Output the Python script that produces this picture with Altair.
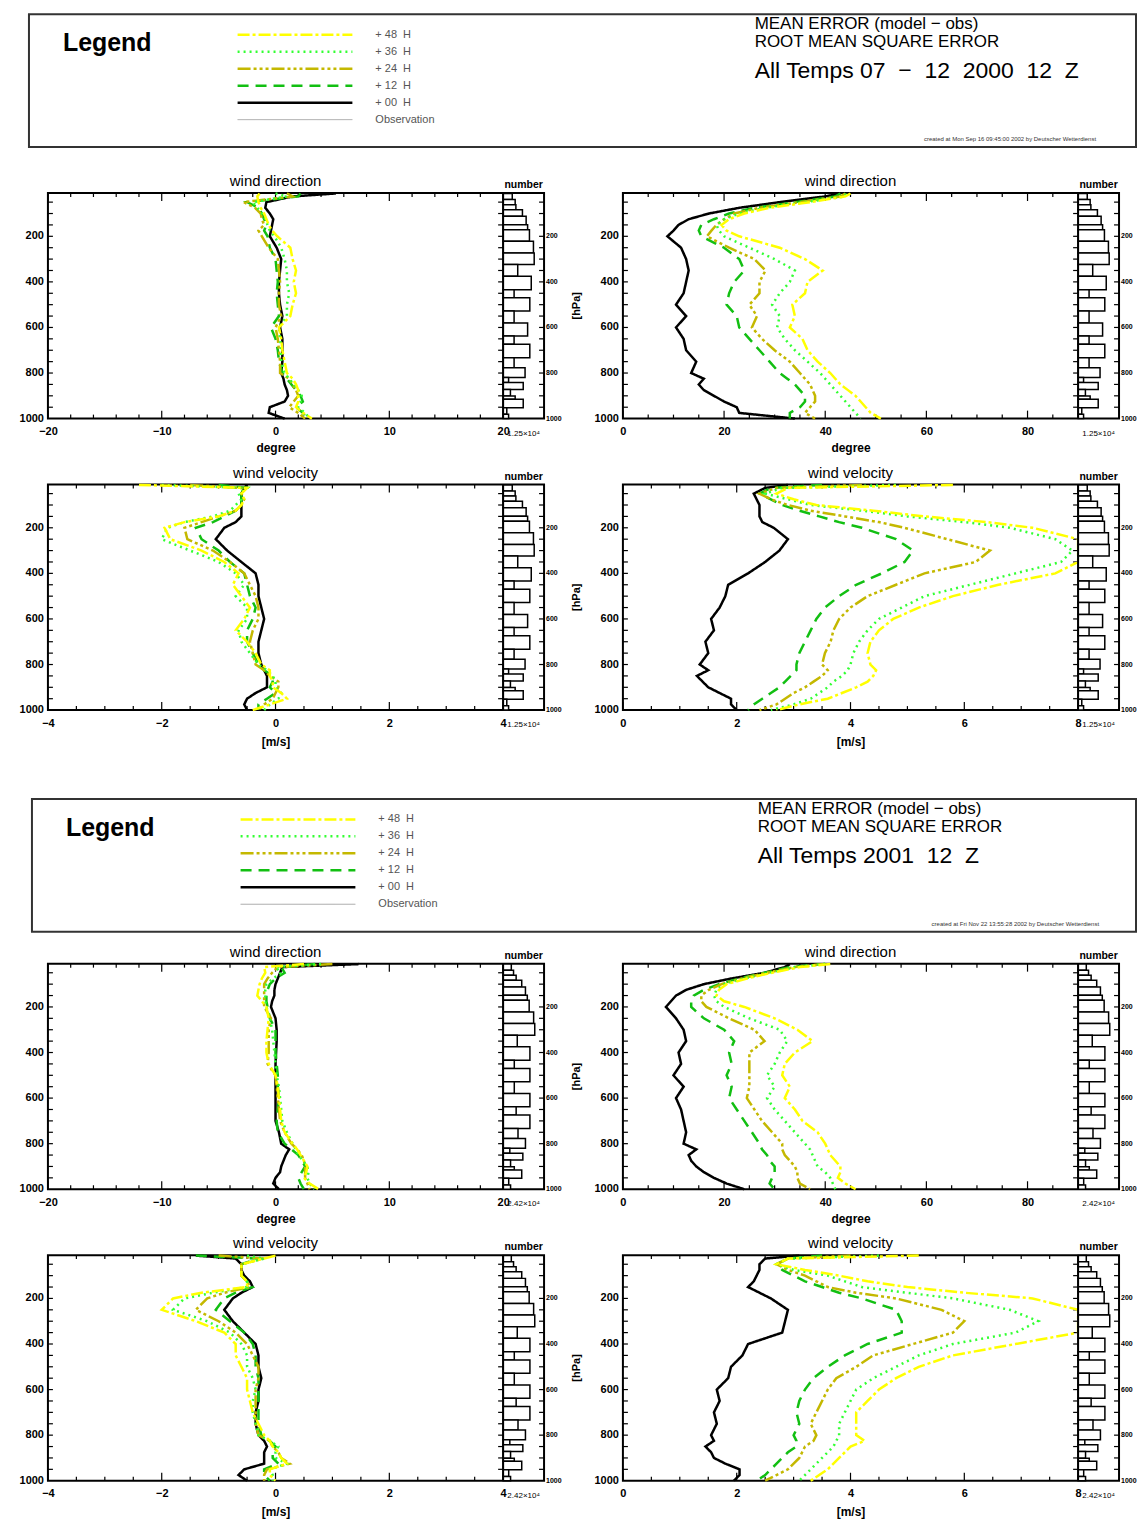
import altair as alt
import pandas as pd

# ---------------- pressure levels (hPa) ----------------
P = [12, 25, 50, 75, 100, 125, 150, 175, 200, 250, 300, 350, 400, 450, 500,
     550, 600, 650, 700, 750, 800, 825, 850, 875, 900, 925, 950, 975, 1000]

# ---- 2000: mean error, wind direction (degree) ----
me_dir_2000_00 = [5.3, 1.5, -0.8, -0.9, -0.5, -0.2, -0.3, -0.4, -0.5, 0.1, 0.5, 0.4, 0.3, 0.3, 0.4, 0.6, 0.4, 0.6, 0.6, 0.6, 0.5, 0.7, 0.8, 1.0, 1.1, 0.8, -0.5, -0.6, 0.8]
me_dir_2000_12 = [2.2, 2.0, -2.5, -1.5, -1.2, -1.0, -0.8, -1.0, -0.7, -0.5, 0.0, 0.1, 0.2, 0.1, 0.2, 0.3, -0.4, 0.0, 0.2, 0.3, 0.6, 1.0, 1.4, 1.8, 2.2, 2.4, 1.8, 2.4, 2.8]
me_dir_2000_24 = [1.0, 1.5, -2.8, -1.8, -1.3, -1.2, -1.0, -1.5, -1.2, -0.6, 0.2, 0.3, 0.4, 0.3, 0.3, 0.5, 0.0, 0.2, 0.3, 0.4, 0.4, 1.2, 1.5, 1.8, 2.0, 1.6, 1.2, 2.0, 2.6]
me_dir_2000_36 = [0.0, 1.0, -2.0, -1.6, -1.2, -0.9, -0.7, -0.5, -0.1, 0.5, 0.8, 1.0, 1.0, 1.2, 1.0, 1.0, 0.3, 0.4, 0.5, 0.5, 0.8, 1.2, 1.6, 2.0, 2.3, 2.2, 2.0, 2.6, 3.0]
me_dir_2000_48 = [-1.4, -1.6, -1.5, -1.3, -1.0, -0.8, -0.6, -0.3, 0.15, 1.3, 1.5, 1.8, 1.6, 1.8, 1.5, 1.3, 0.3, 0.5, 0.6, 0.8, 1.0, 1.5, 1.8, 2.0, 2.0, 2.0, 1.8, 2.4, 3.2]

# ---- 2000: rmse, wind direction (degree) ----
rm_dir_2000_00 = [43, 40, 31, 23, 17, 13, 11, 10, 8.8, 11.5, 12.5, 13, 12.5, 12, 10.5, 12.5, 10.5, 12, 12.5, 14.5, 13.5, 16, 15, 16, 18, 20, 22.5, 23, 34]
rm_dir_2000_12 = [43, 42, 34, 26, 21, 18, 15.5, 15, 15.5, 20, 23, 24, 22, 21, 20.5, 22.5, 23, 25, 27, 29, 31, 32.5, 34, 35, 36, 36, 35, 33, 33]
rm_dir_2000_24 = [44, 43, 35, 27, 22, 20, 18.5, 17.5, 16.6, 21, 26, 28.2, 27, 27, 25, 26.5, 25.5, 27.5, 30, 33, 35, 36, 37, 37.5, 38, 38, 37, 36, 38]
rm_dir_2000_36 = [44, 44, 36, 28, 23, 20, 18.5, 19, 20, 25, 30, 34, 33, 31, 29.5, 31, 30.5, 32, 34, 36.5, 39, 40, 41, 42, 43, 44, 45, 46, 47]
rm_dir_2000_48 = [45, 44, 37, 29, 24, 21, 19.5, 20.5, 23, 31, 36, 39.5, 36.5, 36, 33.5, 34, 33, 35.5, 36.5, 38.5, 41, 42, 43, 44.5, 46, 47, 48, 49, 51]

# ---- 2000: mean error, wind velocity (m/s) ----
me_vel_2000_00 = [-0.5, -0.55, -0.6, -0.6, -0.6, -0.6, -0.6, -0.7, -0.9, -1.05, -0.85, -0.6, -0.35, -0.3, -0.3, -0.25, -0.2, -0.25, -0.3, -0.3, -0.25, -0.2, -0.15, -0.15, -0.15, -0.35, -0.5, -0.55, -0.5]
me_vel_2000_12 = [-1.0, -0.5, -0.6, -0.6, -0.6, -0.7, -0.9, -1.1, -1.4, -1.3, -1.0, -0.8, -0.55, -0.5, -0.45, -0.35, -0.4, -0.5, -0.5, -0.4, -0.3, -0.2, -0.05, -0.05, -0.1, 0.0, -0.15, -0.3, -0.3]
me_vel_2000_24 = [-1.5, -0.6, -0.6, -0.55, -0.6, -0.7, -1.0, -1.3, -1.6, -1.55, -1.1, -0.8, -0.55, -0.45, -0.35, -0.3, -0.3, -0.4, -0.45, -0.4, -0.35, -0.2, -0.1, 0.05, 0.05, 0.0, -0.05, -0.2, -0.3]
me_vel_2000_36 = [-2.0, -0.5, -0.65, -0.6, -0.7, -0.8, -1.1, -1.6, -1.9, -2.0, -1.5, -1.0, -0.7, -0.55, -0.7, -0.5, -0.5, -0.65, -0.6, -0.45, -0.3, -0.15, -0.05, 0.0, 0.0, 0.1, 0.05, -0.1, -0.2]
me_vel_2000_48 = [-2.4, -0.5, -0.6, -0.55, -0.6, -0.7, -1.0, -1.6, -1.95, -1.85, -1.3, -0.9, -0.65, -0.75, -0.6, -0.45, -0.55, -0.7, -0.5, -0.35, -0.25, -0.1, -0.1, -0.05, -0.05, 0.1, 0.2, -0.1, -0.4]

# ---- 2000: rmse, wind velocity (m/s) ----
rm_vel_2000_00 = [2.9, 2.5, 2.3, 2.35, 2.4, 2.4, 2.4, 2.45, 2.65, 2.9, 2.75, 2.5, 2.2, 1.85, 1.8, 1.7, 1.55, 1.6, 1.45, 1.5, 1.35, 1.5, 1.3, 1.4, 1.5, 1.7, 1.9, 1.9, 2.0]
rm_vel_2000_12 = [3.5, 2.6, 2.4, 2.6, 2.8, 3.1, 3.45, 3.8, 4.2, 4.8, 5.1, 4.95, 4.55, 4.1, 3.8, 3.55, 3.4, 3.3, 3.2, 3.1, 3.05, 3.05, 2.95, 2.85, 2.75, 2.6, 2.45, 2.3, 2.2]
rm_vel_2000_24 = [4.2, 2.7, 2.4, 2.6, 2.9, 3.3, 3.9, 4.5, 4.95, 5.7, 6.45, 6.2, 5.3, 4.8, 4.3, 4.0, 3.8, 3.7, 3.65, 3.55, 3.5, 3.6, 3.5, 3.35, 3.2, 3.0, 2.85, 2.7, 2.4]
rm_vel_2000_36 = [4.8, 2.8, 2.5, 2.9, 3.3, 4.2, 5.0, 6.0, 6.8, 7.6, 7.9, 7.7, 6.9, 6.1, 5.3, 4.9, 4.5, 4.3, 4.15, 4.05, 4.0, 3.95, 3.85, 3.7, 3.6, 3.45, 3.3, 3.0, 2.6]
rm_vel_2000_48 = [5.8, 2.9, 2.7, 3.0, 3.4, 4.4, 5.3, 6.4, 7.2, 8.3, 8.5, 8.4, 7.6, 6.6, 5.8, 5.2, 4.75, 4.5, 4.35, 4.3, 4.35, 4.45, 4.4, 4.3, 4.1, 3.85, 3.6, 3.1, 2.7]

# ---- 2001: mean error, wind direction (degree) ----
me_dir_2001_00 = [7.3, 0.6, 0.4, 0.2, 0.0, -0.1, -0.1, -0.3, -0.4, 0.0, 0.1, 0.1, 0.05, 0.0, 0.0, 0.0, 0.0, 0.0, 0.0, 0.3, 0.5, 1.2, 0.9, 0.7, 0.5, 0.4, 0.0, -0.2, 0.3]
me_dir_2001_12 = [3.5, 0.5, 0.8, 0.0, -0.5, -0.7, -0.8, -0.8, -0.7, -0.5, 0.0, 0.0, 0.0, 0.1, 0.2, 0.2, 0.3, 0.2, 0.1, 0.2, 0.8, 1.4, 2.0, 2.3, 2.6, 2.3, 2.0, 2.2, 2.5]
me_dir_2001_24 = [5.0, 0.2, -0.3, -0.7, -1.0, -1.0, -1.0, -1.0, -1.0, -0.4, -0.6, -0.6, -0.6, -0.7, 0.0, 0.1, 0.2, 0.3, 0.4, 0.8, 1.4, 1.9, 2.3, 2.5, 2.6, 2.6, 2.6, 2.8, 3.0]
me_dir_2001_36 = [4.0, 0.0, 0.5, -0.2, -0.8, -0.9, -0.9, -0.9, -0.8, -0.5, -0.3, -0.2, -0.1, 0.0, 0.1, 0.3, 0.4, 0.5, 0.6, 1.0, 1.5, 1.8, 2.0, 2.4, 2.8, 2.9, 2.8, 3.0, 3.4]
me_dir_2001_48 = [2.5, -1.0, -0.9, -1.2, -1.4, -1.5, -1.6, -1.2, -0.8, -0.6, -0.7, -0.8, -0.8, -0.6, 0.0, 0.2, 0.3, 0.4, 0.5, 0.8, 1.5, 1.9, 2.2, 2.5, 2.8, 2.7, 2.5, 3.0, 3.8]

# ---- 2001: rmse, wind direction (degree) ----
rm_dir_2001_00 = [33, 32, 28, 21.5, 16, 12.5, 10.5, 9.5, 8.5, 10.5, 12, 12.5, 11, 11.5, 10, 12, 10.5, 11.5, 12, 12.5, 12, 14.5, 13, 13.5, 14.5, 16, 18, 20.5, 24]
rm_dir_2001_12 = [40, 33, 28, 23, 19, 16, 14, 13.5, 13.5, 16, 20, 22, 21, 21.5, 20.5, 21.5, 21, 22.5, 24, 25.5, 27, 27.5, 28.5, 29, 30, 30, 29.5, 29, 30]
rm_dir_2001_24 = [40, 34, 28.5, 23.5, 19.5, 17, 15.5, 15.5, 16.5, 21, 26, 28, 25, 25, 25, 25, 24.5, 26, 27.5, 29.5, 31.5, 31.5, 32, 33, 34, 34.5, 34.5, 35, 37]
rm_dir_2001_36 = [40, 34, 29, 24, 20, 18.5, 18, 18.5, 20, 25, 31, 32.5, 31, 30, 28.5, 30, 28.5, 30, 32, 34, 36, 37, 37.5, 38, 38.5, 40, 41, 41.5, 42]
rm_dir_2001_48 = [41, 35, 29.5, 24.5, 20.5, 19, 18.5, 20, 24, 30, 34.5, 37.5, 34, 32, 31.5, 33, 32, 34, 35.5, 38.5, 40, 40.5, 41, 42, 43, 43, 42.5, 44, 46]

# ---- 2001: mean error, wind velocity (m/s) ----
me_vel_2001_00 = [-1.4, -0.7, -0.6, -0.6, -0.55, -0.45, -0.4, -0.6, -0.75, -0.9, -0.75, -0.55, -0.35, -0.3, -0.3, -0.25, -0.3, -0.3, -0.35, -0.35, -0.3, -0.2, -0.15, -0.2, -0.2, -0.2, -0.55, -0.65, -0.5]
me_vel_2001_12 = [-1.4, -0.3, -0.6, -0.6, -0.6, -0.5, -0.4, -0.7, -0.9, -1.05, -0.8, -0.55, -0.4, -0.35, -0.35, -0.3, -0.3, -0.3, -0.3, -0.3, -0.25, -0.1, 0.0, -0.05, -0.05, 0.05, -0.2, -0.2, -0.1]
me_vel_2001_24 = [-1.0, -0.2, -0.6, -0.6, -0.6, -0.5, -0.45, -0.9, -1.2, -1.4, -1.0, -0.7, -0.5, -0.4, -0.3, -0.3, -0.35, -0.35, -0.35, -0.35, -0.3, -0.1, -0.05, 0.05, 0.1, 0.25, -0.15, -0.2, -0.2]
me_vel_2001_36 = [-0.5, -0.2, -0.6, -0.6, -0.6, -0.5, -0.5, -1.1, -1.6, -1.8, -1.2, -0.8, -0.6, -0.5, -0.5, -0.4, -0.35, -0.4, -0.4, -0.35, -0.3, -0.1, 0.05, 0.0, 0.0, 0.2, -0.1, -0.05, -0.05]
me_vel_2001_48 = [0.0, -0.2, -0.6, -0.6, -0.6, -0.5, -0.5, -1.3, -1.8, -2.0, -1.4, -0.9, -0.7, -0.7, -0.6, -0.5, -0.5, -0.45, -0.4, -0.3, -0.2, -0.1, -0.05, 0.05, 0.1, 0.2, -0.1, -0.1, 0.0]

# ---- 2001: rmse, wind velocity (m/s) ----
rm_vel_2001_00 = [3.1, 2.5, 2.4, 2.4, 2.35, 2.3, 2.2, 2.4, 2.6, 2.9, 2.85, 2.8, 2.2, 2.1, 1.9, 1.85, 1.65, 1.7, 1.6, 1.65, 1.55, 1.6, 1.45, 1.55, 1.6, 1.8, 2.05, 2.05, 1.95]
rm_vel_2001_12 = [3.5, 2.9, 2.7, 2.8, 3.0, 3.2, 3.5, 3.8, 4.2, 4.8, 4.9, 4.9, 4.3, 3.9, 3.6, 3.35, 3.2, 3.1, 3.05, 3.1, 3.0, 3.05, 3.05, 2.9, 2.8, 2.7, 2.6, 2.5, 2.35]
rm_vel_2001_24 = [4.0, 2.9, 2.7, 2.9, 3.2, 3.4, 3.6, 4.1, 4.8, 5.6, 6.0, 5.8, 5.1, 4.4, 4.1, 3.75, 3.6, 3.5, 3.4, 3.3, 3.4, 3.35, 3.2, 3.15, 3.1, 3.0, 2.9, 2.7, 2.5]
rm_vel_2001_36 = [4.5, 2.9, 2.7, 3.0, 3.6, 3.9, 4.2, 5.0, 5.8, 6.8, 7.3, 6.9, 5.8, 5.2, 4.8, 4.4, 4.1, 4.0, 3.9, 3.8, 3.8, 3.75, 3.7, 3.6, 3.5, 3.4, 3.3, 3.2, 3.1]
rm_vel_2001_48 = [5.2, 2.9, 2.7, 3.2, 3.8, 4.3, 5.0, 6.0, 7.2, 8.3, 8.5, 8.0, 6.9, 5.8, 5.2, 4.8, 4.5, 4.3, 4.1, 4.1, 4.1, 4.25, 4.0, 3.9, 3.8, 3.7, 3.6, 3.45, 3.3]

# ---- number of observations per pressure band ----
HIST_EDGES = [12, 39, 61, 83, 112, 149, 171, 222, 273, 324, 375, 434, 470, 528,
              580, 638, 674, 733, 777, 820, 842, 872, 901, 915, 952, 981, 1000]
HIST_2000 = [2790, 3680, 3900, 5900, 7030, 7480, 8040, 9260, 9490, 4460, 8590, 3350, 8150,
             3350, 7480, 3350, 8150, 3350, 6700, 1670, 6140, 2230, 3680, 6140, 1120, 1670]
HIST_2001 = [4840, 6160, 7700, 11000, 13200, 14300, 15400, 18040, 18700, 8360, 15840, 6600, 15840,
             6600, 15840, 7700, 15840, 8800, 13200, 3960, 11660, 4400, 6600, 11000, 3300, 4400]

# ---- axis ticks / labels ----
Y_LABELS = [200, 400, 600, 800, 1000]
Y_TICKS = [50, 100, 150, 200, 250, 300, 350, 400, 450, 500, 550, 600, 650, 700, 750, 800, 850, 900, 950]
X_ME_DIR = [-20, -10, 0, 10, 20]
X_RM_DIR = [0, 20, 40, 60, 80]
X_ME_VEL = [-4, -2, 0, 2, 4]
X_RM_VEL = [0, 2, 4, 6, 8]
XM_ME_DIR = [v for v in range(-18, 20, 2) if v % 10 != 0]
XM_RM_DIR = [v for v in range(5, 90, 5) if v % 20 != 0]
XM_ME_VEL = [v / 2 for v in range(-7, 8) if v % 4 != 0]
XM_RM_VEL = [v / 2 for v in range(1, 16) if v % 4 != 0]

SERIES = ["00", "12", "24", "36", "48"]
LEGEND_KEYS = ["48", "36", "24", "12", "00", "obs"]
LEGEND_LABELS = ["+ 48\u00a0\u00a0H", "+ 36\u00a0\u00a0H", "+ 24\u00a0\u00a0H",
                 "+ 12\u00a0\u00a0H", "+ 00\u00a0\u00a0H", "Observation"]

# ---------------- tables ----------------
PANELS = {
    "me_dir_2000": [me_dir_2000_00, me_dir_2000_12, me_dir_2000_24, me_dir_2000_36, me_dir_2000_48],
    "rm_dir_2000": [rm_dir_2000_00, rm_dir_2000_12, rm_dir_2000_24, rm_dir_2000_36, rm_dir_2000_48],
    "me_vel_2000": [me_vel_2000_00, me_vel_2000_12, me_vel_2000_24, me_vel_2000_36, me_vel_2000_48],
    "rm_vel_2000": [rm_vel_2000_00, rm_vel_2000_12, rm_vel_2000_24, rm_vel_2000_36, rm_vel_2000_48],
    "me_dir_2001": [me_dir_2001_00, me_dir_2001_12, me_dir_2001_24, me_dir_2001_36, me_dir_2001_48],
    "rm_dir_2001": [rm_dir_2001_00, rm_dir_2001_12, rm_dir_2001_24, rm_dir_2001_36, rm_dir_2001_48],
    "me_vel_2001": [me_vel_2001_00, me_vel_2001_12, me_vel_2001_24, me_vel_2001_36, me_vel_2001_48],
    "rm_vel_2001": [rm_vel_2001_00, rm_vel_2001_12, rm_vel_2001_24, rm_vel_2001_36, rm_vel_2001_48],
}
rows = []
for key, lists in PANELS.items():
    for s, vals in zip(SERIES, lists):
        for p, v in zip(P, vals):
            rows.append({"panel": key, "s": s, "p": p, "v": v})
LINES = pd.DataFrame(rows)

hrows = []
for year, counts in ((2000, HIST_2000), (2001, HIST_2001)):
    for i, n in enumerate(counts):
        hrows.append({"year": year, "top": HIST_EDGES[i], "bot": HIST_EDGES[i + 1], "n": n, "zero": 0})
HIST = pd.DataFrame(hrows)

YT = pd.DataFrame({"p": Y_TICKS})
RL = pd.DataFrame({"p": Y_LABELS, "lab": [str(v) for v in Y_LABELS]})
ONE = pd.DataFrame({"a": [0]})
LEG = pd.DataFrame({"s": LEGEND_KEYS, "label": LEGEND_LABELS})

# ---------------- styling ----------------
FONT = "Liberation Sans"
NB = "\u00a0"
W_MAIN, W_HIST, H = 456, 41, 226
W = W_MAIN + W_HIST

COLOR_SCALE = alt.Scale(domain=LEGEND_KEYS,
                        range=["#ffff00", "#33ff33", "#c4b800", "#12bf12", "#000000", "#a0a0a0"])
DASH_SCALE = alt.Scale(domain=LEGEND_KEYS,
                       range=[[12, 3, 3, 3], [2, 4], [13, 3, 3, 3, 3, 3, 3, 3], [11, 7], [1, 0], [1, 0]])


def rule_y(x1, x2, ys):
    return alt.Chart(YT).mark_rule(color="black", strokeWidth=1.2).encode(
        x=alt.value(x1), x2=alt.value(x2), y=alt.Y("p:Q", scale=ys, axis=None))


def rule_x(vals, xs, y1, y2):
    return alt.Chart(pd.DataFrame({"t": vals})).mark_rule(color="black", strokeWidth=1.2).encode(
        x=alt.X("t:Q", scale=xs, axis=None), y=alt.value(y1), y2=alt.value(y2))


def text_at(txt, x, y, **kw):
    return alt.Chart(ONE).mark_text(text=txt, color="black", baseline="middle", **kw).encode(
        x=alt.value(x), y=alt.value(y))


def panel(key, year, title, xdom, xmajor, xminor, xtitle, xtpad, ytitle, hmax, hlabel):
    xs = alt.Scale(domain=xdom, range=[0, W_MAIN], nice=False, zero=False, clamp=True)
    ys = alt.Scale(domain=[10, 1000], reverse=True, nice=False, zero=False)
    xb = alt.Scale(domain=[0, hmax], range=[W_MAIN, W], nice=False, zero=True)
    xaxis = alt.Axis(values=xmajor, ticks=False, domain=False, grid=False, labelFlush=False,
                     labelPadding=7, labelFontSize=11, labelFontWeight="bold", labelColor="black",
                     format="d", title=xtitle, titlePadding=xtpad, titleFontSize=12,
                     titleFontWeight="bold", titleColor="black")

    layers = [
        rule_y(0, 5, ys), rule_y(W_MAIN, W_MAIN - 5, ys), rule_y(W, W - 5, ys),
        rule_x(xmajor, xs, H, H - 8), rule_x(xmajor, xs, 0, 8),
        rule_x(xminor, xs, H, H - 4), rule_x(xminor, xs, 0, 4),
    ]
    base = alt.Chart(LINES).transform_filter(alt.datum.panel == key)
    for i, s in enumerate(SERIES):
        layers.append(
            base.transform_filter(alt.datum.s == s).mark_line(strokeWidth=2.5).encode(
                x=alt.X("v:Q", scale=xs, axis=xaxis if i == 0 else None),
                y=alt.Y("p:Q", scale=ys, axis=None),
                color=alt.Color("s:N", scale=COLOR_SCALE, legend=None),
                strokeDash=alt.StrokeDash("s:N", scale=DASH_SCALE, legend=None),
                order=alt.Order("p:Q"),
            )
        )
    layers.append(
        alt.Chart(HIST).transform_filter(alt.datum.year == year)
        .mark_rect(fill="white", stroke="black", strokeWidth=1.5)
        .encode(x=alt.X("zero:Q", scale=xb, axis=None), x2="n:Q",
                y=alt.Y("top:Q", scale=ys, axis=None), y2="bot:Q")
    )
    layers.append(alt.Chart(ONE).mark_rule(color="black", strokeWidth=2).encode(
        x=alt.value(W_MAIN), y=alt.value(0), y2=alt.value(H)))
    # left pressure labels
    layers.append(alt.Chart(RL).mark_text(align="right", baseline="middle", fontSize=11,
                                          fontWeight="bold", color="black").encode(
        x=alt.value(-4), y=alt.Y("p:Q", scale=ys, axis=None), text="lab:N"))
    # right pressure labels (histogram side)
    layers.append(alt.Chart(RL).mark_text(align="left", baseline="middle", fontSize=7,
                                          fontWeight="bold", color="black").encode(
        x=alt.value(W + 2), y=alt.Y("p:Q", scale=ys, axis=None), text="lab:N"))
    if ytitle:
        layers.append(text_at(ytitle, -46, H / 2, angle=270, fontSize=11, fontWeight="bold"))
    layers.append(text_at(title, W_MAIN / 2, -12, fontSize=15))
    layers.append(text_at("number", W_MAIN + W_HIST / 2, -8, fontSize=10.5, fontWeight="bold"))
    layers.append(text_at(hlabel, W_MAIN + W_HIST / 2, H + 15, fontSize=8))
    return alt.layer(*layers).resolve_scale(x="independent").properties(width=W, height=H)


def legend_box(dx, dy, h, title3, created):
    yl = alt.Scale(domain=LEGEND_KEYS, range=[14 + dy, 116 + dy], padding=0)
    border = alt.Chart(ONE).mark_rect(fill="white", stroke="#333333", strokeWidth=2).encode(
        x=alt.value(-19 + dx), x2=alt.value(1090), y=alt.value(2 + dy), y2=alt.value(135 + dy))
    samples = alt.Chart(LEG).transform_filter(alt.datum.s != "obs").mark_rule(strokeWidth=2.5).encode(
        x=alt.value(190 + dx), x2=alt.value(305 + dx),
        y=alt.Y("s:N", scale=yl, axis=None),
        color=alt.Color("s:N", scale=COLOR_SCALE, legend=None),
        strokeDash=alt.StrokeDash("s:N", scale=DASH_SCALE, legend=None))
    obs = alt.Chart(LEG).transform_filter(alt.datum.s == "obs").mark_rule(strokeWidth=1).encode(
        x=alt.value(190 + dx), x2=alt.value(305 + dx),
        y=alt.Y("s:N", scale=yl, axis=None),
        color=alt.Color("s:N", scale=COLOR_SCALE, legend=None),
        strokeDash=alt.StrokeDash("s:N", scale=DASH_SCALE, legend=None))
    labels = alt.Chart(LEG).mark_text(align="left", baseline="middle", fontSize=11,
                                      color="#555555").encode(
        x=alt.value(328 + dx), y=alt.Y("s:N", scale=yl, axis=None), text="label:N")
    word = text_at("Legend", 15 + dx, 31 + dy, align="left", fontSize=25, fontWeight="bold")
    t1 = text_at("MEAN ERROR (model \u2212 obs)", 708 + dx, 12 + dy, align="left", fontSize=17)
    t2 = text_at("ROOT MEAN SQUARE ERROR", 708 + dx, 30 + dy, align="left", fontSize=17)
    t3 = text_at(title3, 708 + dx, 59 + dy, align="left", fontSize=23)
    t4 = alt.Chart(ONE).mark_text(text=created, align="right", baseline="middle", fontSize=6,
                                  color="#333333").encode(x=alt.value(1050 + dx), y=alt.value(127 + dy))
    return alt.layer(border, samples, obs, labels, word, t1, t2, t3, t4).properties(
        width=1090, height=h, view=alt.ViewBackground(stroke="transparent"))


def row(year, suffix, kind, hmax, hlabel):
    if kind == "dir":
        left = panel("me_dir_" + suffix, year, "wind direction", [-20, 20], X_ME_DIR, XM_ME_DIR,
                     "degree", 6, None, hmax, hlabel)
        right = panel("rm_dir_" + suffix, year, "wind direction", [0, 90], X_RM_DIR, XM_RM_DIR,
                      "degree", 6, "[hPa]", hmax, hlabel)
    else:
        left = panel("me_vel_" + suffix, year, "wind velocity", [-4, 4], X_ME_VEL, XM_ME_VEL,
                     "[m/s]", 8, None, hmax, hlabel)
        right = panel("rm_vel_" + suffix, year, "wind velocity", [0, 8], X_RM_VEL, XM_RM_VEL,
                      "[m/s]", 8, "[hPa]", hmax, hlabel)
    return alt.hconcat(left, right, spacing=7)


title_2000 = "All Temps 07" + NB * 2 + "\u2212" + NB * 2 + "12" + NB * 2 + "2000" + NB * 2 + "12" + NB * 2 + "Z"
title_2001 = "All Temps 2001" + NB * 2 + "12" + NB * 2 + "Z"

legend1 = legend_box(0, 0, 150, title_2000,
                     "created at Mon Sep 16 09:45:00 2002 by Deutscher Wetterdienst")
legend2 = legend_box(3, 38, 174, title_2001,
                     "created at Fri Nov 22 13:55:28 2002 by Deutscher Wetterdienst")

chart = alt.vconcat(
    legend1,
    row(2000, "2000", "dir", 12500, "1.25\u00d710\u2074"),
    row(2000, "2000", "vel", 12500, "1.25\u00d710\u2074"),
    legend2,
    row(2001, "2001", "dir", 24200, "2.42\u00d710\u2074"),
    row(2001, "2001", "vel", 24200, "2.42\u00d710\u2074"),
    spacing=10,
).properties(padding={"left": 10, "top": 2, "right": 0, "bottom": 0})
chart = chart.configure(font=FONT).configure_view(stroke="black", strokeWidth=2)
chart.save("out.html", embed_options={"renderer": "svg", "actions": False})
